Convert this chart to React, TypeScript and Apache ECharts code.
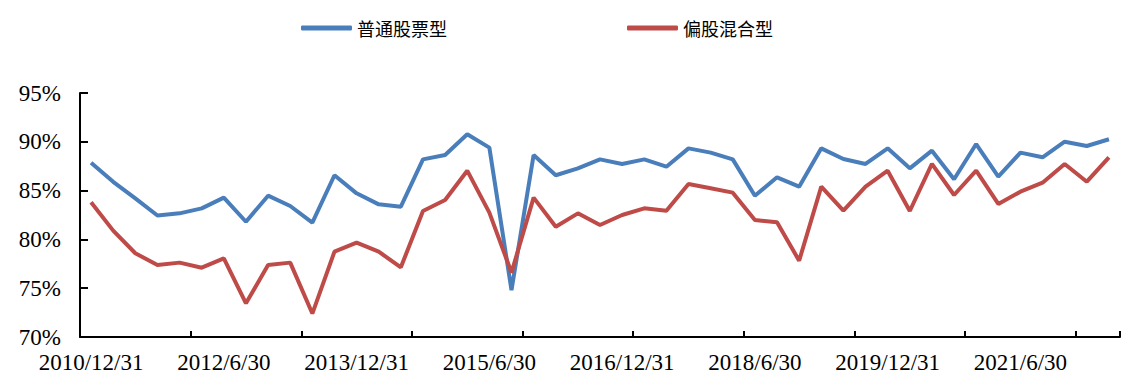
import React, { useEffect, useRef } from "react";
import * as echarts from "echarts";

const categories = [
  "2010/12/31", "2011/3/31", "2011/6/30", "2011/9/30", "2011/12/31",
  "2012/3/31", "2012/6/30", "2012/9/30", "2012/12/31",
  "2013/3/31", "2013/6/30", "2013/9/30", "2013/12/31",
  "2014/3/31", "2014/6/30", "2014/9/30", "2014/12/31",
  "2015/3/31", "2015/6/30", "2015/9/30", "2015/12/31",
  "2016/3/31", "2016/6/30", "2016/9/30", "2016/12/31",
  "2017/3/31", "2017/6/30", "2017/9/30", "2017/12/31",
  "2018/3/31", "2018/6/30", "2018/9/30", "2018/12/31",
  "2019/3/31", "2019/6/30", "2019/9/30", "2019/12/31",
  "2020/3/31", "2020/6/30", "2020/9/30", "2020/12/31",
  "2021/3/31", "2021/6/30", "2021/9/30", "2021/12/31",
  "2022/3/31", "2022/6/30",
];

const stockFund = [
  87.86, 85.9, 84.2, 82.45, 82.67, 83.18, 84.28, 81.81, 84.48, 83.42,
  81.71, 86.57, 84.72, 83.59, 83.35, 88.2, 88.65, 90.77, 89.4, 74.8,
  88.65, 86.57, 87.28, 88.2, 87.73, 88.2, 87.45, 89.33, 88.89, 88.2,
  84.48, 86.36, 85.4, 89.33, 88.24, 87.73, 89.33, 87.28, 89.09, 86.16,
  89.77, 86.43, 88.89, 88.41, 90.01, 89.57, 90.26,
];

const hybridFund = [
  83.8, 80.9, 78.58, 77.38, 77.62, 77.1, 78.06, 73.45, 77.38, 77.62,
  72.4, 78.74, 79.66, 78.74, 77.14, 82.91, 84.04, 87.04, 82.74, 76.6,
  84.28, 81.3, 82.67, 81.48, 82.5, 83.18, 82.94, 85.68, 85.24, 84.79,
  81.99, 81.75, 77.82, 85.4, 82.94, 85.4, 87.04, 82.91, 87.73, 84.55,
  87.04, 83.63, 84.89, 85.81, 87.73, 85.91, 88.41,
];

const seriesNames = ["普通股票型", "偏股混合型"];

export default function App() {
  const ref = useRef<HTMLDivElement>(null);
  useEffect(() => {
    document.body.style.margin = "0";
    const chart = echarts.init(ref.current!, null, { renderer: "svg" });
    const serif = "'Liberation Serif', 'Times New Roman', serif";
    chart.setOption({
      animation: false,
      backgroundColor: "#ffffff",
      legend: {
        top: 14,
        left: 296,
        itemWidth: 51,
        itemHeight: 5,
        itemGap: 180,
        icon: "roundRect",
        textStyle: {
          fontFamily: "'Noto Sans CJK SC', sans-serif",
          fontSize: 18,
          color: "#000",
          padding: [0, 0, 0, 0],
        },
        data: seriesNames,
      },
      grid: { left: 80, right: 8, top: 93, bottom: 53, containLabel: false },
      xAxis: {
        type: "category",
        data: categories,
        boundaryGap: true,
        axisLine: { lineStyle: { color: "#000", width: 2 } },
        axisTick: { show: true, inside: true, length: 6, interval: 4, lineStyle: { color: "#000", width: 2 } },
        axisLabel: {
          interval: 5,
          margin: 14,
          fontFamily: serif,
          fontSize: 23,
          color: "#000",
        },
      },
      yAxis: {
        type: "value",
        min: 70,
        max: 95,
        interval: 5,
        splitLine: { show: false },
        axisLine: { show: true, lineStyle: { color: "#000", width: 2 } },
        axisTick: { show: true, inside: true, length: 8, lineStyle: { color: "#000", width: 2 } },
        axisLabel: {
          margin: 19,
          fontFamily: serif,
          fontSize: 23,
          color: "#000",
          formatter: (v: number) => v + "%",
        },
      },
      series: [
        {
          name: seriesNames[0],
          type: "line",
          data: stockFund,
          symbol: "none",
          lineStyle: { color: "#4a7ebb", width: 4 },
          itemStyle: { color: "#4a7ebb" },
        },
        {
          name: seriesNames[1],
          type: "line",
          data: hybridFund,
          symbol: "none",
          lineStyle: { color: "#be4b48", width: 4 },
          itemStyle: { color: "#be4b48" },
        },
      ],
    });
    return () => chart.dispose();
  }, []);
  return <div ref={ref} style={{ width: 1128, height: 390 }} />;
}
